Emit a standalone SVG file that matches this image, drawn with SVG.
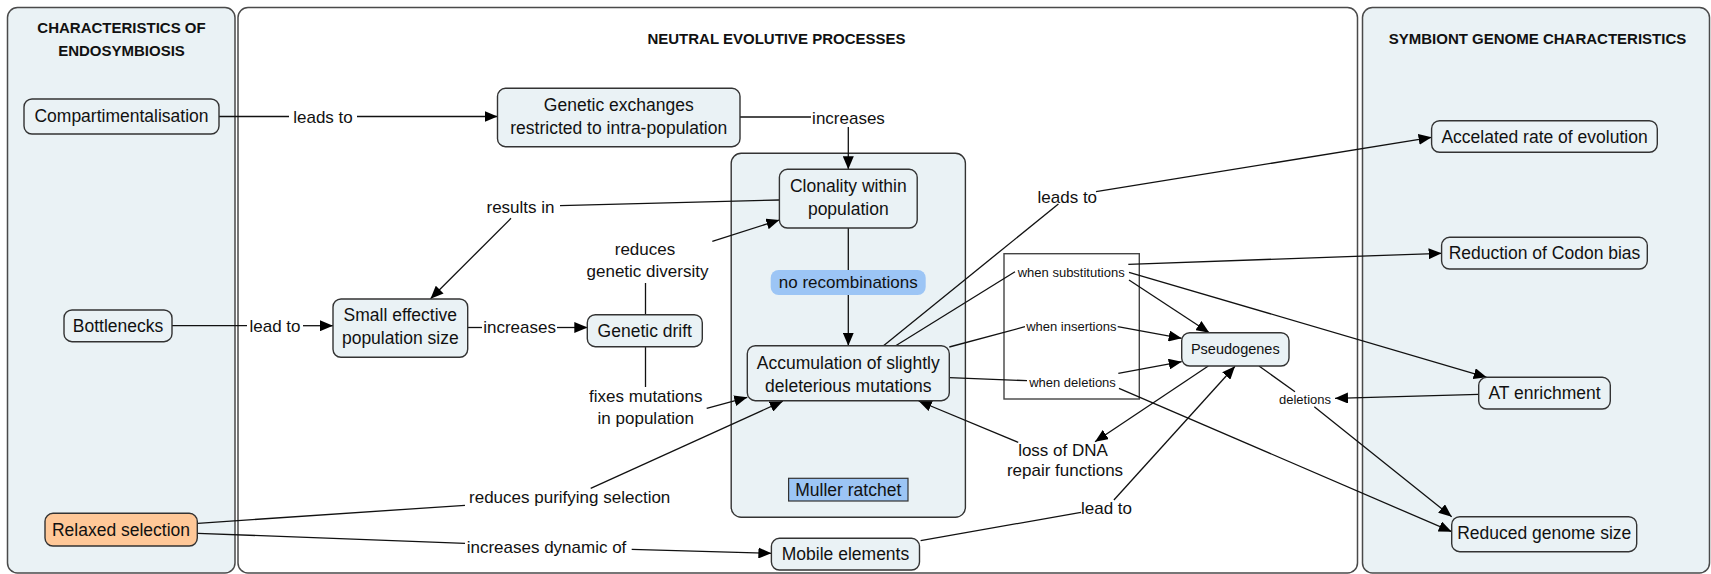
<svg xmlns="http://www.w3.org/2000/svg" width="1711" height="574" viewBox="0 0 1711 574">
<style>
.panel{fill:#eaf2f5;stroke:#4a4a4a;stroke-width:1.5}
.panelw{fill:#ffffff;stroke:#4a4a4a;stroke-width:1.5}
.node{fill:#eaf2f5;stroke:#333;stroke-width:1.4}
.orange{fill:#ffc898;stroke:#333;stroke-width:1.4}
.title{font-family:"Liberation Sans",Arial,sans-serif;font-weight:bold;font-size:15px;fill:#111;text-anchor:middle}
.t{font-family:"Liberation Sans",Arial,sans-serif;font-size:17.5px;fill:#111;text-anchor:middle}
.l{font-family:"Liberation Sans",Arial,sans-serif;font-size:17px;fill:#111;text-anchor:middle}
.s{font-family:"Liberation Sans",Arial,sans-serif;font-size:13px;fill:#111;text-anchor:middle}
.c line{stroke:#111;stroke-width:1.3;fill:none}
.a{marker-end:url(#arr)}
</style>
<defs>
<marker id="arr" viewBox="0 0 13 11" refX="13" refY="5.5" markerWidth="13" markerHeight="11" markerUnits="userSpaceOnUse" orient="auto">
<path d="M0,0 L13,5.5 L0,11 z" fill="#000"/>
</marker>
</defs>

<g id="panels">
<rect id="panel-left" class="panel" x="7.5" y="7.5" width="227.5" height="565.5" rx="10"/>
<rect id="panel-middle" class="panelw" x="238" y="7.5" width="1119.5" height="565.5" rx="10"/>
<rect id="panel-right" class="panel" x="1362.5" y="7.5" width="347" height="565.5" rx="10"/>
<text class="title" x="121.5" y="32.5">CHARACTERISTICS OF</text>
<text class="title" x="121.5" y="55.5">ENDOSYMBIOSIS</text>
<text class="title" x="776.5" y="44">NEUTRAL EVOLUTIVE PROCESSES</text>
<text class="title" x="1537.5" y="44">SYMBIONT GENOME CHARACTERISTICS</text>
</g>

<g id="muller-group">
<rect class="node" x="731.2" y="153.3" width="234.2" height="364" rx="10"/>
</g>
<g id="when-box">
<rect x="1004" y="253.7" width="135.3" height="145.3" fill="none" stroke="#444" stroke-width="1.4"/>
</g>

<g class="c" id="connectors">
<line x1="219" y1="116.5" x2="289" y2="116.5"/>
<line class="a" x1="357" y1="116.5" x2="497.5" y2="116.5"/>
<line x1="740" y1="117" x2="811" y2="117"/>
<line class="a" x1="848.3" y1="127" x2="848.3" y2="169.3"/>
<line x1="779.4" y1="200" x2="560" y2="205.7"/>
<line class="a" x1="511" y1="218.3" x2="430.5" y2="298.8"/>
<line x1="171.8" y1="325.7" x2="247" y2="325.7"/>
<line class="a" x1="303" y1="325.7" x2="333" y2="325.7"/>
<line x1="467.7" y1="327.5" x2="482" y2="327.5"/>
<line class="a" x1="557" y1="327.5" x2="587.3" y2="327.5"/>
<line x1="645.5" y1="314.7" x2="645.5" y2="283"/>
<line class="a" x1="712.3" y1="241.3" x2="779.4" y2="220"/>
<line x1="645.5" y1="346.7" x2="645.5" y2="387"/>
<line class="a" x1="706.7" y1="408.3" x2="747.3" y2="397.3"/>
<line x1="848.3" y1="228" x2="848.3" y2="270"/>
<line class="a" x1="848.3" y1="295" x2="848.3" y2="345.7"/>
<line x1="197.8" y1="523.3" x2="465" y2="505.3"/>
<line class="a" x1="590.7" y1="488.3" x2="782.8" y2="401.2"/>
<line x1="197.8" y1="533.3" x2="465" y2="543.3"/>
<line class="a" x1="631.7" y1="549.3" x2="771.4" y2="553.3"/>
<line x1="920.6" y1="540.7" x2="1081" y2="512.3"/>
<line class="a" x1="1113.9" y1="500" x2="1235" y2="366.3"/>
<line x1="883.5" y1="345.7" x2="1058.4" y2="204"/>
<line class="a" x1="1096" y1="191.7" x2="1431.6" y2="137.3"/>
<line x1="895.7" y1="345.7" x2="1015" y2="271.7"/>
<line class="a" x1="1128.3" y1="264.3" x2="1441.6" y2="253.3"/>
<line class="a" x1="1129" y1="272.3" x2="1486.7" y2="377.3"/>
<line class="a" x1="1129" y1="280" x2="1209.3" y2="332.7"/>
<line x1="949.3" y1="347" x2="1025" y2="326.7"/>
<line class="a" x1="1117.7" y1="326.7" x2="1181.7" y2="338.3"/>
<line x1="949.3" y1="377.7" x2="1027" y2="380.7"/>
<line class="a" x1="1118.3" y1="373.3" x2="1181.7" y2="361.7"/>
<line class="a" x1="1119" y1="388.3" x2="1451.7" y2="531.7"/>
<line class="a" x1="1208.3" y1="366" x2="1095" y2="441.7"/>
<line class="a" x1="1018.2" y1="442.3" x2="918.7" y2="401"/>
<line x1="1259" y1="366" x2="1295" y2="391.7"/>
<line class="a" x1="1478.7" y1="394.3" x2="1335" y2="398.3"/>
<line class="a" x1="1314.3" y1="406.7" x2="1451.7" y2="516.7"/>
</g>

<g id="edge-labels">
<text class="l" x="323" y="122.5">leads to</text>
<text class="l" x="848.5" y="124">increases</text>
<text class="l" x="520.5" y="213.3">results in</text>
<text class="l" x="275" y="331.7">lead to</text>
<text class="l" x="519.6" y="333">increases</text>
<text class="l" x="645" y="254.7">reduces</text>
<text class="l" x="647.5" y="277">genetic diversity</text>
<text class="l" x="645.8" y="402">fixes mutations</text>
<text class="l" x="645.8" y="424.3">in population</text>
<text class="l" x="569.7" y="503.3">reduces purifying selection</text>
<text class="l" x="546.5" y="553.3">increases dynamic of</text>
<text class="l" x="1106.5" y="513.7">lead to</text>
<text class="l" x="1067.3" y="202.7">leads to</text>
<text class="l" x="1063" y="456">loss of DNA</text>
<text class="l" x="1065" y="476">repair functions</text>
<text class="s" x="1071.2" y="277.2">when substitutions</text>
<text class="s" x="1071.3" y="331.2">when insertions</text>
<text class="s" x="1072.5" y="386.5">when deletions</text>
<text class="s" x="1305" y="403.8">deletions</text>
</g>

<g id="node-compartimentalisation">
<rect class="node" x="24" y="99" width="195" height="35" rx="8"/>
<text class="t" x="121.5" y="122">Compartimentalisation</text>
</g>
<g id="node-bottlenecks">
<rect class="node" x="64" y="310" width="108" height="31.7" rx="8"/>
<text class="t" x="118" y="331.7">Bottlenecks</text>
</g>
<g id="node-relaxed-selection">
<rect class="orange" x="45" y="513.3" width="152.3" height="32.7" rx="8"/>
<text class="t" x="121" y="536">Relaxed selection</text>
</g>
<g id="node-genetic-exchanges">
<rect class="node" x="497.5" y="88.3" width="242.5" height="58.4" rx="8"/>
<text class="t" x="618.75" y="111">Genetic exchanges</text>
<text class="t" x="618.75" y="133.7">restricted to intra-population</text>
</g>
<g id="node-small-effective">
<rect class="node" x="333" y="299" width="134.7" height="58.3" rx="8"/>
<text class="t" x="400.3" y="321">Small effective</text>
<text class="t" x="400.3" y="344.3">population size</text>
</g>
<g id="node-genetic-drift">
<rect class="node" x="587.3" y="314.7" width="115" height="32" rx="8"/>
<text class="t" x="644.8" y="337">Genetic drift</text>
</g>
<g id="node-clonality">
<rect class="node" x="779.4" y="169.3" width="137.8" height="58.7" rx="8"/>
<text class="t" x="848.3" y="191.7">Clonality within</text>
<text class="t" x="848.3" y="215">population</text>
</g>
<g id="node-no-recombinations">
<rect x="770.7" y="270" width="155" height="25" rx="8" fill="#9cc5f5"/>
<text class="l" x="848.3" y="288.3">no recombinations</text>
</g>
<g id="node-accumulation">
<rect class="node" x="747.3" y="345.7" width="202" height="55" rx="8"/>
<text class="t" x="848.3" y="368.7">Accumulation of slightly</text>
<text class="t" x="848.3" y="391.7">deleterious mutations</text>
</g>
<g id="node-muller-ratchet">
<rect x="788.6" y="478.3" width="119.4" height="22.7" fill="#9cc5f5" stroke="#333" stroke-width="1.2"/>
<text class="t" x="848.3" y="495.7">Muller ratchet</text>
</g>
<g id="node-mobile-elements">
<rect class="node" x="771.4" y="538.3" width="148.1" height="31.7" rx="8"/>
<text class="t" x="845.5" y="560.3">Mobile elements</text>
</g>
<g id="node-pseudogenes">
<rect class="node" x="1181.7" y="332.7" width="107.3" height="33.3" rx="8"/>
<text class="t" x="1235.3" y="353.5" style="font-size:14.5px">Pseudogenes</text>
</g>
<g id="node-accelerated">
<rect class="node" x="1431.6" y="120.7" width="225.7" height="31.6" rx="8"/>
<text class="t" x="1544.5" y="142.7">Accelated rate of evolution</text>
</g>
<g id="node-codon-bias">
<rect class="node" x="1441.6" y="237.3" width="205.7" height="31.7" rx="8"/>
<text class="t" x="1544.5" y="259.3">Reduction of Codon bias</text>
</g>
<g id="node-at-enrichment">
<rect class="node" x="1478.7" y="377.3" width="131.6" height="31.7" rx="8"/>
<text class="t" x="1544.5" y="399.3">AT enrichment</text>
</g>
<g id="node-reduced-genome">
<rect class="node" x="1451.7" y="516.7" width="185" height="35" rx="8"/>
<text class="t" x="1544.2" y="539.3">Reduced genome size</text>
</g>
</svg>
